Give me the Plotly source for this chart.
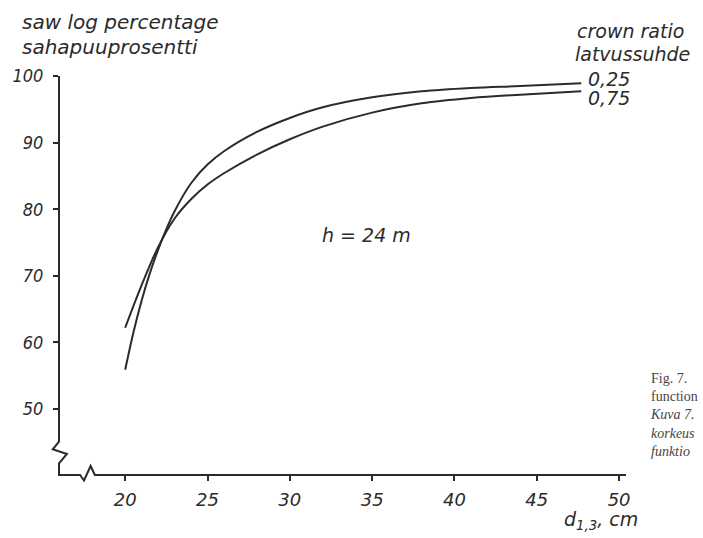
import plotly.graph_objects as go

# Saw log percentage as a function of breast-height diameter, h = 24 m
d_025 = [20, 20.5, 21, 21.5, 22, 22.5, 23, 24, 25, 26, 28, 30, 32, 35, 38, 41, 44, 47.7]
p_025 = [55.9, 61.5, 66.3, 70.4, 73.9, 77.0, 79.7, 83.9, 86.7, 88.7, 91.6, 93.7, 95.3, 96.8, 97.7, 98.2, 98.5, 98.9]

d_075 = [20, 21, 22, 23, 24, 25, 26, 28, 30, 32, 35, 38, 41, 44, 47.7]
p_075 = [62.2, 68.6, 74.3, 78.6, 81.5, 83.7, 85.4, 88.2, 90.5, 92.4, 94.5, 95.9, 96.7, 97.2, 97.7]

x_ticks = [20, 25, 30, 35, 40, 45, 50]
y_ticks = [50, 60, 70, 80, 90, 100]

W, H = 703, 538
L, R, T, B = 52, 626, 76, 475          # plot-area box in pixels
X_RANGE = [15.98, 50.42]
Y_RANGE = [40.09, 100.0]

INK = "#2b2b2b"
SANS = "DejaVu Sans"
COND = "DejaVu Sans Condensed"


def px(x):
    return (x - L) / (R - L)


def py(y):
    return (B - y) / (B - T)


fig = go.Figure()
for xs, ys in [(d_025, p_025), (d_075, p_075)]:
    fig.add_trace(go.Scatter(
        x=xs, y=ys, mode="lines",
        line=dict(color=INK, width=2, shape="spline", smoothing=1.0),
        hoverinfo="skip", showlegend=False,
    ))

# axis lines with break marks, in plot-area (paper) units
axis_pts = [(52, 76), (52, 441.7), (45.7, 449.3), (60, 454), (52, 463.3), (52, 475),
            (73.3, 475), (77.3, 480.5), (84, 466), (88.3, 475), (626, 475)]
path = "M " + " L ".join(f"{px(a):.5f},{py(b):.5f}" for a, b in axis_pts)
fig.add_shape(type="path", path=path, xref="paper", yref="paper",
              line=dict(color=INK, width=2))


def note(text, x, y, size, family=SANS, style="italic", color=INK, anchor="left"):
    fig.add_annotation(text=text, x=px(x), y=py(y), xref="paper", yref="paper",
                       xanchor=anchor, yanchor="middle", align="left", showarrow=False,
                       font=dict(family=family, size=size, color=color, style=style))


note("saw log percentage", 13, 22, 20)
note("sahapuuprosentti", 13, 47, 20)
note("crown ratio", 574, 31, 19)
note("latvussuhde", 572, 54, 19)
note("0,25", 586, 79, 19)
note("0,75", 585, 98, 19)
note("h = 24 m", 316, 235, 19)
note("d<sub>1,3</sub>, cm", 561, 520, 19)

# caption block in the right margin
caption = "<br>".join(["Fig. 7.", "function", "<i>Kuva 7.</i>", "<i>korkeus</i>", "<i>funktio</i>"])
note(caption, 648, 415, 14, family="Liberation Serif", style="normal", color="#444444")

fig.update_xaxes(
    range=X_RANGE, tickvals=x_ticks, ticktext=[f"<i>{v}</i>" for v in x_ticks],
    showline=False, showgrid=False, zeroline=False,
    ticks="outside", ticklen=5, tickwidth=2, tickcolor=INK,
    ticklabelstandoff=3,
    tickfont=dict(family=SANS, size=18, color=INK),
)
fig.update_yaxes(
    range=Y_RANGE, tickvals=y_ticks, ticktext=[f"<i>{v}</i>" for v in y_ticks],
    showline=False, showgrid=False, zeroline=False,
    ticks="outside", ticklen=5, tickwidth=2, tickcolor=INK,
    ticklabelstandoff=6,
    tickfont=dict(family=COND, size=18, color=INK),
)
fig.update_layout(
    width=W, height=H,
    margin=dict(l=L, r=W - R, t=T, b=H - B, pad=0),
    paper_bgcolor="white", plot_bgcolor="white",
)

fig.write_html("out.html")
